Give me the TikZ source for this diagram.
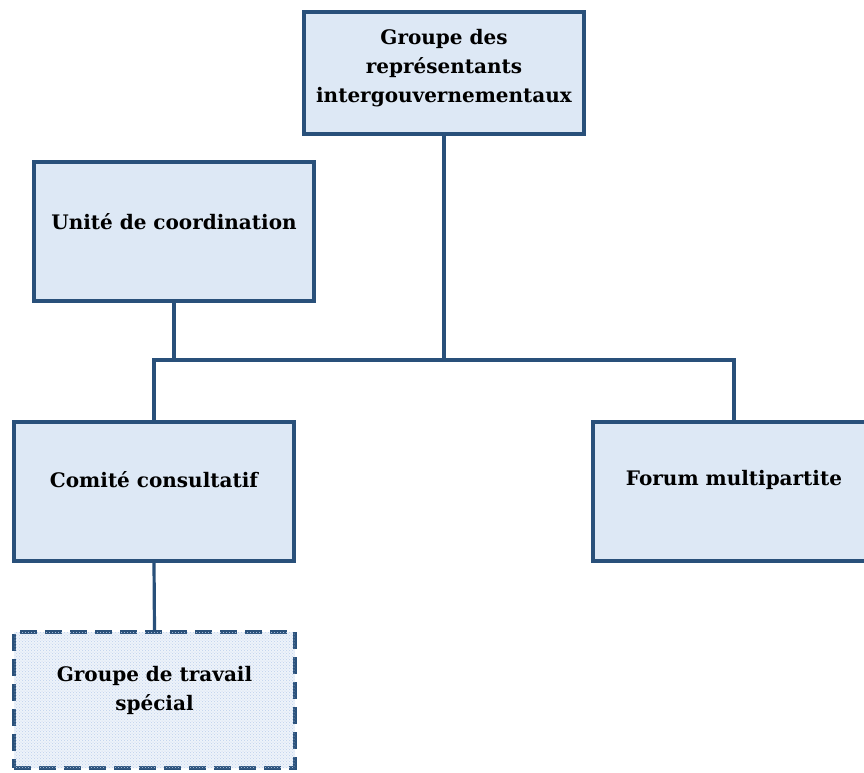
\documentclass[tikz,border=0pt]{standalone}
\usepackage{fontspec}
\setmainfont{DejaVu Serif}
\usepackage{tikz}
\usetikzlibrary{patterns}
\definecolor{orgline}{RGB}{41,80,122}
\definecolor{orgfill}{RGB}{221,232,245}
\definecolor{orgpale}{RGB}{238,243,250}
\definecolor{orgdots}{RGB}{188,208,236}

\begin{document}
\begin{tikzpicture}[x=1pt, y=-1pt,
    orgbox/.style={draw=orgline, line width=3.5pt, fill=orgfill, minimum width=280pt},
    adhoc/.style={draw=orgline, line width=3.5pt, dash pattern=on 17pt off 8pt, fill=orgpale,
        postaction={pattern=crosshatch dots, pattern color=orgdots}, minimum width=281pt},
    boxtext/.style={align=center, font=\bfseries\fontsize{20}{29}\selectfont, yshift=10pt},
    link/.style={draw=orgline, line width=3.2pt}]
    \useasboundingbox (0,0) rectangle (864,772);

    % 1. les cadres
    \node[orgbox, minimum height=122pt, label={[boxtext, yshift=-5pt]center:Groupe des\\représentants\\intergouvernementaux}] (gri) at (444,73) {};
    \node[orgbox, minimum height=139pt, label={[boxtext]center:Unité de coordination}] (unite) at (174,231.5) {};
    \node[orgbox, minimum height=139pt, label={[boxtext, yshift=2pt]center:Comité consultatif}] (comite) at (154,491.5) {};
    \node[orgbox, minimum width=282pt, minimum height=139pt, label={[boxtext, yshift=2pt]center:Forum multipartite}] (forum) at (734,491.5) {};
    \node[adhoc, minimum height=136pt, label={[boxtext]center:Groupe de travail\\spécial}] (travail) at (154.5,700) {};

    % 2. la barre horizontale
    \coordinate (bus) at (444,360);

    % 3. les liaisons
    \draw[link] (gri.south) -- (bus);
    \draw[link] (unite.south) -- (unite.south |- bus);
    \draw[link] (comite.north) -- (comite.north |- bus) -- (forum.north |- bus) -- (forum.north);
    \draw[link] (comite.south) -- (travail.north);
\end{tikzpicture}
\end{document}
